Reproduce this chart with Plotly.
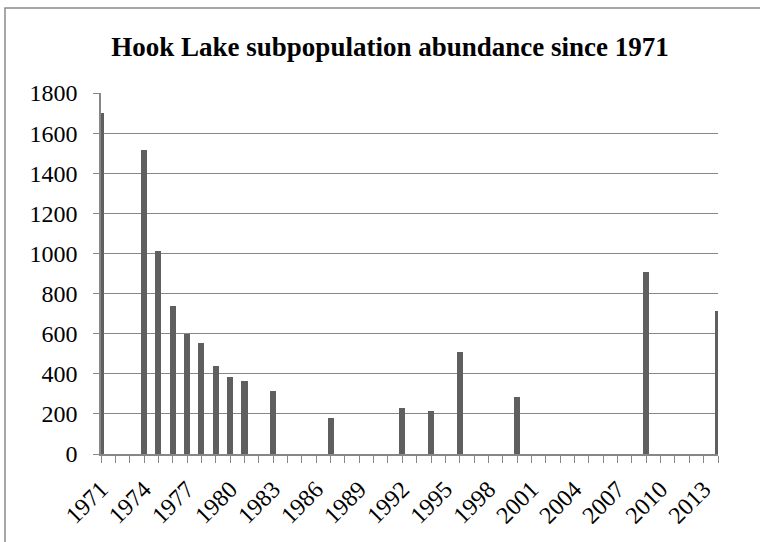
import plotly.graph_objects as go

years = [1971, 1974, 1975, 1976, 1977, 1978, 1979, 1980, 1981, 1983,
         1987, 1992, 1994, 1996, 2000, 2009, 2014]
abundance = [1700, 1515, 1013, 737, 598, 553, 440, 386, 362, 313,
             180, 228, 212, 507, 283, 907, 715]

all_years = list(range(1971, 2015))
tick_labels = [str(y) if (y - 1971) % 3 == 0 else "" for y in all_years]
y_ticks = [0, 200, 400, 600, 800, 1000, 1200, 1400, 1600, 1800]

W, H = 760, 542
L, R = 101, 718
T, B = 93, 454.5

fig = go.Figure()
fig.add_trace(go.Bar(
    x=years, y=abundance, width=0.42,
    marker=dict(color="#5f5f5f", line=dict(width=0)),
    hoverinfo="x+y",
))

font = "Liberation Serif"
axis_col = "#878787"

fig.update_layout(
    width=W, height=H,
    margin=dict(l=L, r=W - R, t=T, b=H - B, pad=0),
    paper_bgcolor="white", plot_bgcolor="white",
    showlegend=False,
    font=dict(family=font, size=24, color="black"),
    title=dict(
        text="<b>Hook Lake subpopulation abundance since 1971</b>",
        font=dict(family=font, size=27, color="black"),
        x=390 / W, xanchor="center", xref="container",
        y=1 - 47 / H, yanchor="middle", yref="container",
    ),
    xaxis=dict(
        range=[1971, 2014], tickmode="array", tickvals=all_years, ticktext=tick_labels,
        tickangle=-45, ticks="outside", ticklen=7, tickwidth=1.3, tickcolor=axis_col,
        showline=True, linecolor=axis_col, linewidth=1.5, showgrid=False, zeroline=False,
        tickfont=dict(family=font, size=24, color="black"),
        ticklabelstandoff=3,
    ),
    yaxis=dict(
        range=[0, 1800], tickmode="array", tickvals=y_ticks,
        ticks="outside", ticklen=6, tickwidth=1.3, tickcolor=axis_col,
        showline=True, linecolor=axis_col, linewidth=1.5,
        showgrid=True, gridcolor=axis_col, gridwidth=1.3, zeroline=False,
        tickfont=dict(family=font, size=24, color="black"),
        ticklabelstandoff=11,
    ),
    bargap=0,
)

# outer chart frame
pw, ph = R - L, B - T
def px_to_paper_x(px):
    return (px - L) / pw
def px_to_paper_y(py):
    return (B - py) / ph

fig.add_shape(type="rect", xref="paper", yref="paper",
              x0=px_to_paper_x(5), x1=px_to_paper_x(765),
              y0=px_to_paper_y(548), y1=px_to_paper_y(8),
              line=dict(color="#8a8a8a", width=1.5), fillcolor="rgba(0,0,0,0)", layer="below")

fig.write_html("out.html", config={"displayModeBar": False},
               post_script="document.body.style.margin='0';document.body.style.padding='0';")
